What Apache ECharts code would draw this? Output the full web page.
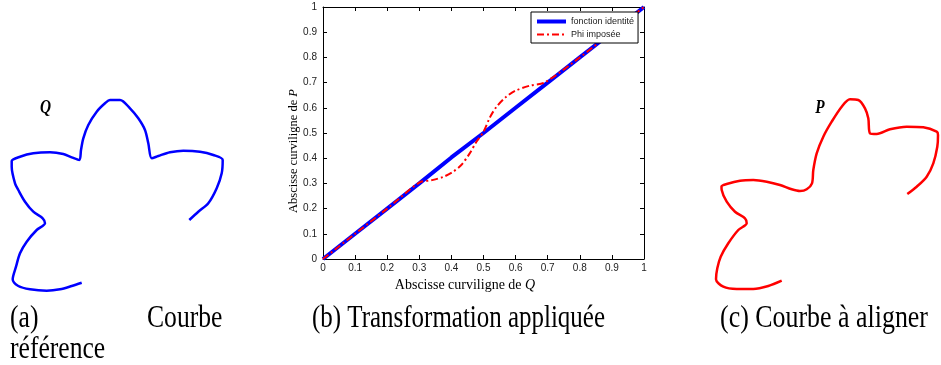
<!DOCTYPE html>
<html>
<head>
<meta charset="utf-8">
<script src="https://cdn.jsdelivr.net/npm/echarts@6/dist/echarts.min.js"></script>
<style>html,body{margin:0;padding:0;background:#fff}#c{width:941px;height:365px}</style>
</head>
<body>
<div id="c"></div>
<script>
// ---- Panel (b): transformation ----
const axisTicks = [0, 0.1, 0.2, 0.3, 0.4, 0.5, 0.6, 0.7, 0.8, 0.9, 1];
const identityX = [0, 0.1, 0.2, 0.3, 0.4, 0.5, 0.6, 0.7, 0.8, 0.9, 1];
const identityY = [0, 0.1, 0.2, 0.3, 0.403, 0.5, 0.6, 0.7, 0.8, 0.9, 1];
const phiX = [0, 0.1, 0.2, 0.3, 0.34, 0.375, 0.405, 0.43, 0.455, 0.478, 0.5, 0.52, 0.54, 0.57, 0.6, 0.645, 0.69, 0.8, 0.9, 1];
const phiY = [0, 0.1, 0.2, 0.303, 0.313, 0.326, 0.346, 0.372, 0.415, 0.465, 0.505, 0.562, 0.603, 0.643, 0.668, 0.688, 0.7, 0.8, 0.9, 1];
const legendNames = ['fonction identité', 'Phi imposée'];

// ---- Panel (a): reference curve Q (panel-local units, y downward) ----
const qX = [81.7, 71.7, 60, 46.7, 30, 18.3, 12.7, 16, 20, 26.7, 36.7, 45, 42.7, 33.3, 25, 18.3, 15, 11.7, 11.7, 20, 33.3, 50, 63.3, 71.7, 79.3, 81, 83.3, 88.3, 96.7, 105, 110, 120, 130, 138.3, 145, 148.3, 151.7, 158.3, 170, 183.3, 200, 213.3, 222.7, 221.7, 216.7, 208.3, 198.3, 189.3];
const qY = [192.7, 196, 199.3, 200.7, 199.3, 196, 189.3, 176.7, 163.3, 151.7, 140, 133.3, 128.3, 121.7, 111.7, 100, 93.3, 76.7, 71, 66.7, 63.3, 62.3, 64, 67.3, 70, 60, 48.3, 35, 21.7, 13.3, 10, 10, 18.3, 28.3, 40, 53.3, 68.3, 66, 62.3, 60.7, 61.7, 65, 70, 83.3, 98.3, 113.3, 121.7, 130];

// ---- Panel (c): curve to align P (panel-local units, y downward) ----
const pX = [81.7, 68.3, 53.3, 36.7, 23.3, 16, 17.3, 20.7, 28.3, 38.3, 46.7, 45, 35, 26.7, 21.7, 21.5, 26.7, 40, 53.3, 66.7, 80, 91.7, 100, 106.7, 112, 113.3, 116.7, 123.3, 131.7, 141.7, 150, 158.3, 165, 168.3, 170, 176.7, 190, 206.7, 223.3, 236.7, 238, 237.3, 233.3, 226.7, 216.7, 207.3];
const pY = [190.7, 196, 199, 199, 196.7, 189.3, 178.3, 166.7, 153.3, 140, 133.3, 128.3, 121.7, 111.7, 100, 96.5, 94, 90.7, 90, 91.7, 95, 99.3, 101, 99.3, 93.3, 80, 63.3, 46.7, 31.7, 16.7, 9.3, 10, 18.3, 28.3, 43.3, 44, 39.3, 36.7, 37.3, 41.7, 45, 56.7, 73.3, 86.7, 96.7, 104];

const zip = (a, b) => a.map((v, i) => [v, b[i]]);

const serif = '"Liberation Serif", "Times New Roman", serif';
const sans = '"Liberation Sans", Arial, sans-serif';

const chart = echarts.init(document.getElementById('c'), null, {renderer: 'canvas'});

const mainAxisCommon = {
  type: 'value', min: 0, max: 1, interval: 0.1,
  splitLine: {show: false},
  axisLine: {show: true, onZero: false, lineStyle: {color: '#000', width: 1}},
  axisTick: {show: true, inside: true, length: 4, lineStyle: {color: '#000'}}
};

const option = {
  animation: false,
  backgroundColor: '#fff',
  grid: [
    {left: 323, top: 7, width: 321, height: 252},
    {left: 0, top: 90, width: 240, height: 210},
    {left: 700, top: 90, width: 241, height: 210}
  ],
  xAxis: [
    Object.assign({}, mainAxisCommon, {gridIndex: 0, position: 'bottom',
      axisLabel: {show: true, margin: 4, fontSize: 10, fontFamily: sans, color: '#222', formatter: v => String(+v.toFixed(1))}}),
    Object.assign({}, mainAxisCommon, {gridIndex: 0, position: 'top', axisLabel: {show: false}}),
    {type: 'value', gridIndex: 1, min: 0, max: 240, show: false},
    {type: 'value', gridIndex: 2, min: 0, max: 241, show: false}
  ],
  yAxis: [
    Object.assign({}, mainAxisCommon, {gridIndex: 0, position: 'left',
      axisLabel: {show: true, margin: 6, fontSize: 10, fontFamily: sans, color: '#222', formatter: v => String(+v.toFixed(1))}}),
    Object.assign({}, mainAxisCommon, {gridIndex: 0, position: 'right', axisLabel: {show: false}}),
    {type: 'value', gridIndex: 1, min: 0, max: 210, inverse: true, show: false},
    {type: 'value', gridIndex: 2, min: 0, max: 210, inverse: true, show: false}
  ],
  legend: {
    data: [
      {name: legendNames[0], lineStyle: {width: 4, color: '#0000ff'}},
      {name: legendNames[1], lineStyle: {width: 2, color: '#ff0000', type: [7, 3, 2, 3]}}
    ],
    orient: 'vertical',
    left: 531, top: 12,
    padding: [4, 4, 3, 4],
    itemGap: 2,
    itemWidth: 29,
    itemHeight: 11,
    itemTextGap: 4,
    itemStyle: {opacity: 0},
    borderColor: '#000',
    borderWidth: 1,
    backgroundColor: '#fff',
    textStyle: {fontSize: 9, fontFamily: sans, color: '#222', lineHeight: 11}
  },
  series: [
    {
      name: legendNames[0], type: 'line', xAxisIndex: 0, yAxisIndex: 0,
      data: zip(identityX, identityY), symbol: 'none', smooth: false,
      lineStyle: {color: '#0000ff', width: 4}, itemStyle: {color: '#0000ff'}, z: 2
    },
    {
      name: legendNames[1], type: 'line', xAxisIndex: 0, yAxisIndex: 0,
      data: zip(phiX, phiY), symbol: 'none', smooth: 0.3,
      lineStyle: {color: '#ff0000', width: 2, type: [7, 3, 2, 3]}, itemStyle: {color: '#ff0000'}, z: 3
    },
    {
      name: 'Q', type: 'line', xAxisIndex: 2, yAxisIndex: 2,
      data: zip(qX, qY), symbol: 'none', smooth: 0.3,
      lineStyle: {color: '#0000ff', width: 2.5}
    },
    {
      name: 'P', type: 'line', xAxisIndex: 3, yAxisIndex: 3,
      data: zip(pX, pY), symbol: 'none', smooth: 0.3,
      lineStyle: {color: '#ff0000', width: 2.5}
    }
  ],
  graphic: [
    // axis names of panel (b)
    {type: 'text', x: 465, y: 285, style: {
      text: '{n|Abscisse curviligne de }{i|Q}', align: 'center', verticalAlign: 'middle',
      textAlign: 'center', textVerticalAlign: 'middle',
      rich: {n: {fontFamily: serif, fontSize: 14, fill: '#000'}, i: {fontFamily: serif, fontSize: 14, fontStyle: 'italic', fill: '#000'}}
    }},
    {type: 'text', x: 294, y: 151, rotation: Math.PI / 2, style: {
      text: '{n|Abscisse curviligne de }{i|P}', align: 'center', verticalAlign: 'middle',
      textAlign: 'center', textVerticalAlign: 'middle',
      rich: {n: {fontFamily: serif, fontSize: 12.5, fill: '#000'}, i: {fontFamily: serif, fontSize: 12.5, fontStyle: 'italic', fill: '#000'}}
    }},
    // curve labels
    {type: 'text', x: 45.5, y: 108, scaleX: 0.85, style: {text: 'Q', font: 'italic bold 18px ' + serif, fill: '#000', align: 'center', verticalAlign: 'middle', textAlign: 'center', textVerticalAlign: 'middle'}},
    {type: 'text', x: 820, y: 108.5, scaleX: 0.85, style: {text: 'P', font: 'italic bold 18px ' + serif, fill: '#000', align: 'center', verticalAlign: 'middle', textAlign: 'center', textVerticalAlign: 'middle'}},
    // captions
    {type: 'text', x: 10, y: 319, scaleX: 0.8, style: {text: '(a)', font: '32px ' + serif, fill: '#000', align: 'left', verticalAlign: 'middle', textAlign: 'left', textVerticalAlign: 'middle'}},
    {type: 'text', x: 147, y: 319, scaleX: 0.8, style: {text: 'Courbe', font: '32px ' + serif, fill: '#000', align: 'left', verticalAlign: 'middle', textAlign: 'left', textVerticalAlign: 'middle'}},
    {type: 'text', x: 10, y: 350, scaleX: 0.8, style: {text: 'référence', font: '32px ' + serif, fill: '#000', align: 'left', verticalAlign: 'middle', textAlign: 'left', textVerticalAlign: 'middle'}},
    {type: 'text', x: 312, y: 319, scaleX: 0.78, style: {text: '(b) Transformation appliquée', font: '32px ' + serif, fill: '#000', align: 'left', verticalAlign: 'middle', textAlign: 'left', textVerticalAlign: 'middle'}},
    {type: 'text', x: 720, y: 319, scaleX: 0.81, style: {text: '(c) Courbe à aligner', font: '32px ' + serif, fill: '#000', align: 'left', verticalAlign: 'middle', textAlign: 'left', textVerticalAlign: 'middle'}}
  ]
};
chart.setOption(option);
</script>
</body>
</html>
